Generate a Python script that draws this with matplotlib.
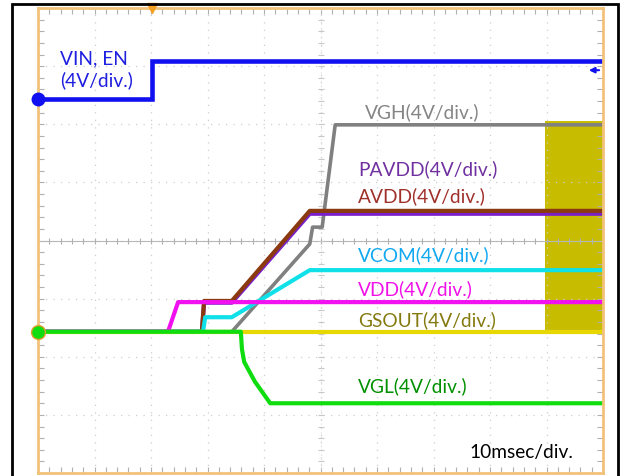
import matplotlib.pyplot as plt
import numpy as np
from matplotlib.patches import Rectangle

# Осцилограма: час у мс (10 мс/под.), рівні у поділках (0..8 знизу)
t_vin = [0, 20.2, 20.2, 100]
y_vin = [6.44, 6.44, 7.09, 7.09]

t_vgh = [0, 34.3, 48.1, 48.6, 50.3, 52.6, 100]
y_vgh = [2.43, 2.43, 3.94, 4.23, 4.23, 5.99, 5.99]

t_avdd = [0, 29.0, 29.4, 34.3, 48.1, 100]
y_avdd = [2.43, 2.43, 2.96, 2.96, 4.51, 4.51]

t_pavdd = [0, 29.0, 29.4, 34.3, 48.1, 100]
y_pavdd = [2.43, 2.43, 2.93, 2.93, 4.46, 4.46]

t_vcom = [0, 29.2, 29.6, 34.3, 48.1, 100]
y_vcom = [2.43, 2.43, 2.68, 2.68, 3.49, 3.49]

t_vdd = [0, 23.0, 24.8, 100]
y_vdd = [2.43, 2.43, 2.94, 2.94]

t_gsout = [0, 89.7, 89.7, 100]
y_gsout = [2.43, 2.43, 2.43, 2.43]
gsout_burst = (89.7, 100, 2.43, 6.06)   # t0, t1, low, high

t_vgl = [0, 35.9, 36.1, 36.5, 38.4, 41.1, 100]
y_vgl = [2.43, 2.43, 2.13, 1.91, 1.57, 1.20, 1.20]

W, H = 628, 477
fig = plt.figure(figsize=(W / 100, H / 100), dpi=100)
ax = fig.add_axes([38 / W, 1 - 474 / H, 565 / W, 465 / H])

ax.set_xlim(0, 100)
ax.set_ylim(0, 8)
ax.set_xticks(np.arange(0, 101, 10))
ax.set_yticks(np.arange(0, 9, 1))
ax.set_xticks(np.arange(0, 101, 2), minor=True)
ax.set_yticks(np.arange(0, 8.01, 0.2), minor=True)
ax.set_xticklabels([])
ax.set_yticklabels([])
ax.tick_params(which='both', direction='in', top=True, right=True,
               length=4, width=0.8, color='#b0b0b0')
ax.grid(True, which='major', color='#cfcfcf', linestyle=(0, (1, 5)), lw=0.9)
for s in ax.spines.values():
    s.set_color('#f2c27a')
    s.set_linewidth(2)

# центральні осі з рисками
ax.axhline(4, color='#b8b8b8', lw=0.8)
ax.axvline(50, color='#d8d8d8', lw=0.8, ls=(0, (1, 3)))
xt = np.arange(0, 101, 2)
ax.plot(xt, np.full_like(xt, 4.0, dtype=float), ls='none', marker='|',
        ms=5, mew=0.8, color='#b0b0b0')
yt = np.arange(0, 8.01, 0.2)
ax.plot(np.full_like(yt, 50.0), yt, ls='none', marker='_',
        ms=5, mew=0.8, color='#c8c8c8')

lw = 3.0
ax.plot(t_vin, y_vin, color='#1010f0', lw=3.3, solid_joinstyle='miter')
t0, t1, lo, hi = gsout_burst
ax.fill_between([t0, t1], lo, hi, color='#c8bc00', lw=0)
ax.plot(t_vgh, y_vgh, color='#808080', lw=2.6)
ax.plot(t_pavdd, y_pavdd, color='#7a20c8', lw=lw)
ax.plot(t_avdd, y_avdd, color='#8b3a10', lw=lw)
ax.plot(t_vcom, y_vcom, color='#10e0e8', lw=lw)
ax.plot(t_vdd, y_vdd, color='#f010f0', lw=lw)
ax.plot(t_gsout, y_gsout, color='#e6d800', lw=lw)
ax.plot(t_vgl, y_vgl, color='#10dd10', lw=lw)

# маркери каналів
ax.plot([0], [y_vin[0]], 'o', ms=9, color='#1010f0', clip_on=False, zorder=5)
ax.plot([0], [y_vgl[0]], 'o', ms=10, color='#10dd10', mec='#e0a030',
        mew=1, clip_on=False, zorder=5)
ax.plot([t_vin[1]], [8], 'v', ms=7, color='#f4a020', clip_on=False, zorder=5)
ax.annotate('', xy=(97.0, 6.93), xytext=(99.8, 6.93),
            arrowprops=dict(arrowstyle='-|>', color='#1010f0', lw=1.5,
                            mutation_scale=8))

font = 'Lato'
def label(x, y, s, c):
    fig.text(x / W, 1 - y / H, s, color=c, fontsize=13.8, family=font,
             va='baseline', ha='left')

label(60, 64, 'VIN, EN', '#1f1fe0')
label(60, 86, '(4V/div.)', '#1f1fe0')
label(365, 118, 'VGH(4V/div.)', '#858585')
label(358, 175, 'PAVDD(4V/div.)', '#7030a0')
label(358, 202, 'AVDD(4V/div.)', '#a0302a')
label(358, 261, 'VCOM(4V/div.)', '#10a8f0')
label(358, 295, 'VDD(4V/div.)', '#f010e8')
label(358, 326, 'GSOUT(4V/div.)', '#857a10')
label(358, 392, 'VGL(4V/div.)', '#009000')
label(469, 458, '10msec/div.', '#000000')

# зовнішня чорна рамка
fig.patches.append(Rectangle((12 / W, -0.05), 606 / W, 1.05 - 5 / H,
                             transform=fig.transFigure, fill=False,
                             ec='black', lw=2))

fig.savefig('out.png', dpi=100)
